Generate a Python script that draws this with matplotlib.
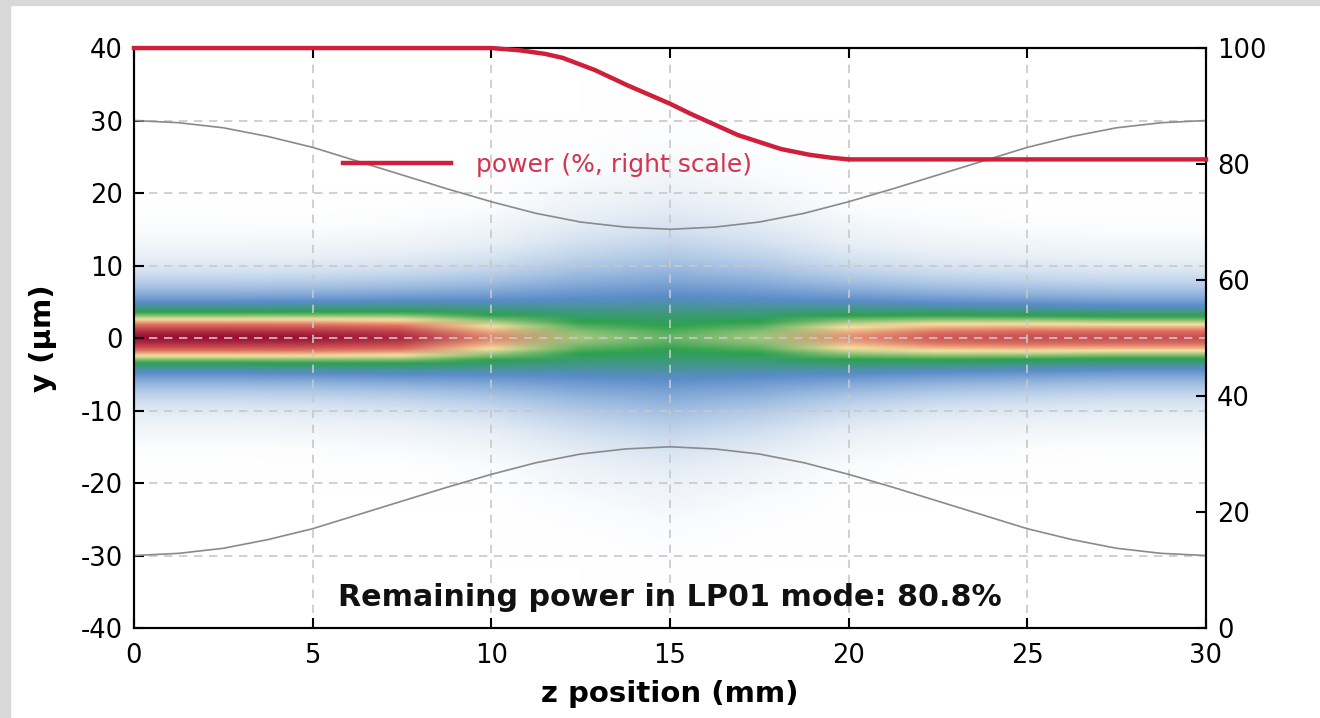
import numpy as np
import matplotlib
matplotlib.use("Agg")
import matplotlib.pyplot as plt
from matplotlib.colors import LinearSegmentedColormap
from matplotlib.patches import Rectangle

plt.rcParams["axes.unicode_minus"] = False

# core boundary (um)
z_core = [0, 1.25, 2.5, 3.75, 5, 6.25, 7.5, 8.75, 10, 11.25, 12.5, 13.75, 15,
          16.25, 17.5, 18.75, 20, 21.25, 22.5, 23.75, 25, 26.25, 27.5, 28.75, 30]
r_core = [30, 29.7, 29.0, 27.8, 26.3, 24.4, 22.5, 20.6, 18.8, 17.2, 16.0, 15.3, 15,
          15.3, 16.0, 17.2, 18.8, 20.6, 22.5, 24.4, 26.3, 27.8, 29.0, 29.7, 30]

# power in LP01 mode (%, right scale)
z_pow = [0, 10, 10.8, 11.5, 12, 12.9, 13.8, 15, 15.6, 16.9, 18.1, 18.9, 19.5, 20, 30]
power = [100, 100, 99.6, 99.0, 98.3, 96.2, 93.6, 90.4, 88.6, 85.0, 82.6, 81.6, 81.1, 80.8, 80.8]

# mode profile: peak level and width (um) along z, estimated from the colours
z_mode = [0, 2.5, 5, 7.5, 10, 12.5, 15, 17.5, 20, 22.5, 25, 27.5, 30]
peak = [1.0, 1.0, 0.99, 0.95, 0.79, 0.64, 0.60, 0.64, 0.78, 0.85, 0.87, 0.87, 0.87]
width = [5.0, 5.0, 5.1, 5.4, 6.3, 8.3, 9.6, 8.3, 6.3, 5.5, 5.2, 5.0, 5.0]

y = np.linspace(-40, 40, 401)
field = np.array([p * np.exp(-(np.abs(y) / w) ** 1.5) for p, w in zip(peak, width)]).T

cmap = LinearSegmentedColormap.from_list("mode", [
    (0.0, "#ffffff"),
    (0.015, "#f2f6fa"),
    (0.06, "#dee8f3"),
    (0.16, "#b3cbe7"),
    (0.38, "#5a8cc9"),
    (0.56, "#2ca14e"),
    (0.70, "#f6e2a0"),
    (0.81, "#de6f60"),
    (1.0, "#9b0f35"),
], N=2048)

red = "#cf1f3a"

fig = plt.figure(figsize=(13.2, 7.18), dpi=100)
fig.patch.set_facecolor("white")
fig.patches.append(Rectangle((0, 0), 10 / 1320, 1, transform=fig.transFigure,
                             color="#d8d8d8", zorder=-10))
fig.patches.append(Rectangle((0, 1 - 5 / 718), 1, 5 / 718, transform=fig.transFigure,
                             color="#d8d8d8", zorder=-10))

ax = fig.add_axes([0.1015, 0.1253, 0.8121, 0.8078])
dz = z_mode[1] - z_mode[0]
ax.imshow(field, cmap=cmap, vmin=0, vmax=1, aspect="auto", origin="lower",
          interpolation="bilinear",
          extent=[z_mode[0] - dz / 2, z_mode[-1] + dz / 2, -40.1, 40.1], zorder=0)

r_core = np.array(r_core)
ax.plot(z_core, r_core, color="#8a8a8a", lw=1.2, zorder=3)
ax.plot(z_core, -r_core, color="#8a8a8a", lw=1.2, zorder=3)

ax.set_xlim(0, 30)
ax.set_ylim(-40, 40)
ax.set_xticks(range(0, 31, 5))
ax.set_yticks(range(-40, 41, 10))
ax.set_axisbelow(False)
ax.grid(True, color="#c8c8c8", ls=(0, (5, 4)), lw=1.2)
ax.tick_params(direction="in", top=True, right=True, length=7, width=1.5,
               labelsize=18.5, pad=8)
ax.tick_params(axis="x", pad=11)
for s in ax.spines.values():
    s.set_linewidth(1.5)
ax.set_xlabel("z position (mm)", fontsize=21, fontweight="bold", labelpad=8)
ax.set_ylabel("y (μm)", fontsize=21, fontweight="bold", labelpad=17)

ax.text(15, -35.8, "Remaining power in LP01 mode: 80.8%", ha="center", va="center",
        fontsize=21.7, fontweight="bold", color="#111111", zorder=5)

ax2 = ax.twinx()
ax2.plot(z_pow, power, color=red, lw=3.2, clip_on=False, zorder=6,
         label="power (%, right scale)")
ax2.set_ylim(0, 100)
ax2.set_yticks(range(0, 101, 20))
ax2.tick_params(direction="in", length=7, width=1.5, labelsize=18.5, pad=8)
for s in ax2.spines.values():
    s.set_linewidth(1.5)

leg = ax2.legend(loc="center left", bbox_to_anchor=(0.195, 0.798), frameon=False,
                 fontsize=18, handlelength=4.3, handletextpad=1.0, borderpad=0,
                 borderaxespad=0, labelcolor="#d4344d")

fig.savefig("out.png", dpi=100)
